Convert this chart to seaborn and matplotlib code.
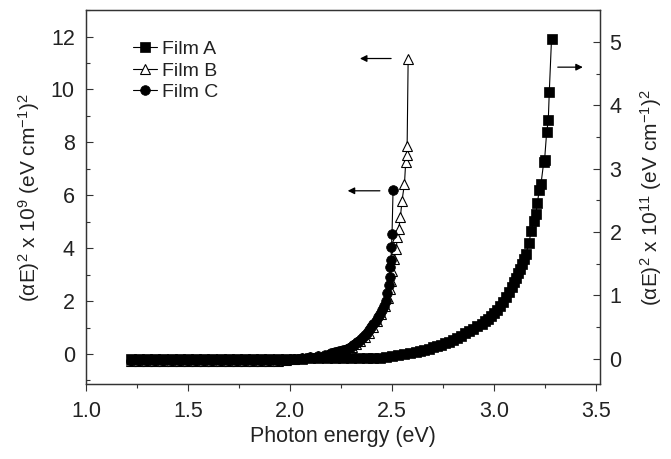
import matplotlib
matplotlib.use("Agg")
import matplotlib.pyplot as plt
import seaborn as sns
from matplotlib.ticker import MultipleLocator, AutoMinorLocator, FormatStrFormatter

# Film A (right axis, x 10^11)
energy_a = [1.22, 1.26, 1.30, 1.34, 1.38, 1.42, 1.46, 1.50, 1.54, 1.58, 1.62, 1.66,
            1.70, 1.74, 1.78, 1.82, 1.86, 1.90, 1.94, 1.98, 2.02, 2.06, 2.10, 2.14,
            2.18, 2.22, 2.26, 2.30, 2.34, 2.38, 2.41, 2.44, 2.47, 2.50, 2.53, 2.56,
            2.59, 2.62, 2.64, 2.66, 2.68, 2.70, 2.72, 2.74, 2.76, 2.78, 2.80, 2.82,
            2.84, 2.86, 2.88, 2.90, 2.92, 2.94, 2.955, 2.97, 2.985, 3.00, 3.015, 3.03,
            3.045, 3.06, 3.075, 3.09, 3.10, 3.11, 3.12, 3.13, 3.14, 3.15, 3.158,
            3.173, 3.182, 3.197, 3.207, 3.213, 3.223, 3.231, 3.245, 3.249, 3.259,
            3.267, 3.272, 3.283]
film_a = [0.0, 0.0, 0.0, 0.0, 0.0, 0.0, 0.0, 0.0, 0.0, 0.0, 0.0, 0.0,
          0.0, 0.0, 0.0, 0.0, 0.0, 0.0, 0.0, 0.0, 0.0, 0.0, 0.01, 0.01,
          0.01, 0.01, 0.01, 0.01, 0.02, 0.02, 0.02, 0.02, 0.03, 0.045, 0.06, 0.07,
          0.09, 0.11, 0.12, 0.14, 0.16, 0.18, 0.20, 0.22, 0.25, 0.27, 0.30, 0.33,
          0.36, 0.40, 0.44, 0.47, 0.51, 0.55, 0.59, 0.63, 0.68, 0.72, 0.77, 0.83,
          0.90, 0.97, 1.05, 1.14, 1.21, 1.28, 1.35, 1.42, 1.50, 1.58, 1.66,
          1.83, 2.01, 2.18, 2.29, 2.45, 2.66, 2.75, 3.11, 3.14, 3.57, 3.76, 4.21, 5.05]

# Film B (left axis, x 10^9)
energy_b = [1.22, 1.26, 1.30, 1.34, 1.38, 1.42, 1.46, 1.50, 1.54, 1.58, 1.62, 1.66,
            1.70, 1.74, 1.78, 1.82, 1.86, 1.90, 1.94, 1.98, 2.02, 2.06, 2.10, 2.14,
            2.18, 2.206, 2.226, 2.246, 2.266, 2.286, 2.306, 2.326, 2.346, 2.366,
            2.386, 2.406, 2.426, 2.446, 2.466, 2.48, 2.49, 2.496, 2.50, 2.509,
            2.522, 2.526, 2.534, 2.542, 2.550, 2.562, 2.568, 2.572, 2.575, 2.58]
film_b = [-0.25, -0.25, -0.25, -0.25, -0.25, -0.25, -0.25, -0.25, -0.25, -0.25, -0.25, -0.25,
          -0.25, -0.25, -0.25, -0.25, -0.25, -0.25, -0.25, -0.22, -0.18, -0.14, -0.1, -0.06,
          -0.02, 0.02, 0.06, 0.10, 0.14, 0.20, 0.28, 0.38, 0.50, 0.64, 0.81,
          1.02, 1.26, 1.53, 1.82, 2.1, 2.45, 2.75, 3.15, 3.6, 3.98, 4.42, 4.74,
          5.18, 5.8, 6.44, 7.26, 7.52, 7.86, 11.15]

# Film C (left axis, x 10^9)
energy_c = [1.22, 1.26, 1.30, 1.34, 1.38, 1.42, 1.46, 1.50, 1.54, 1.58, 1.62, 1.66,
            1.70, 1.74, 1.78, 1.82, 1.86, 1.90, 1.94, 1.98, 2.02, 2.06, 2.10, 2.14,
            2.17, 2.20, 2.21, 2.22, 2.23, 2.24, 2.25, 2.26, 2.27, 2.28, 2.29, 2.30,
            2.31, 2.32, 2.33, 2.34, 2.35, 2.36, 2.37, 2.38, 2.39, 2.40, 2.41, 2.42,
            2.43, 2.44, 2.45, 2.46, 2.47, 2.478, 2.485, 2.489, 2.493, 2.496, 2.498,
            2.501, 2.506]
film_c = [-0.25, -0.25, -0.25, -0.25, -0.25, -0.25, -0.25, -0.25, -0.25, -0.25, -0.25, -0.25,
          -0.25, -0.25, -0.25, -0.25, -0.25, -0.25, -0.25, -0.22, -0.18, -0.14, -0.1, -0.06,
          -0.02, 0.02, 0.04, 0.06, 0.08, 0.10, 0.12, 0.14, 0.17, 0.20, 0.24, 0.28,
          0.33, 0.38, 0.44, 0.50, 0.57, 0.64, 0.72, 0.81, 0.91, 1.02, 1.13, 1.26,
          1.39, 1.53, 1.67, 1.82, 2.02, 2.3, 2.6, 2.9, 3.3, 3.55, 4.03,
          4.54, 6.2]

sns.set_style("ticks")
plt.rcParams["font.family"] = ["Liberation Sans", "DejaVu Sans"]
plt.rcParams["mathtext.default"] = "regular"
txt = "#222222"
edge = "#333333"

fig = plt.figure(figsize=(6.71, 4.59), dpi=100)
ax = fig.add_axes([0.128, 0.163, 0.766, 0.815])
ax2 = ax.twinx()

sns.lineplot(x=energy_b, y=film_b, ax=ax, sort=False, estimator=None, color="k",
             linewidth=0.8, marker="^", markersize=7.5, markerfacecolor="white",
             markeredgecolor="k", markeredgewidth=0.8, label="Film B")
sns.lineplot(x=energy_c, y=film_c, ax=ax, sort=False, estimator=None, color="k",
             linewidth=0.8, marker="o", markersize=7, markerfacecolor="k",
             markeredgecolor="k", markeredgewidth=0.5, label="Film C")
sns.lineplot(x=energy_a, y=film_a, ax=ax2, sort=False, estimator=None, color="k",
             linewidth=0.8, marker="s", markersize=7, markerfacecolor="k",
             markeredgecolor="k", markeredgewidth=0.5, label="Film A")

ax.set_xlim(1.0, 3.52)
ax.set_ylim(-1.14, 13.0)
ax2.set_ylim(-0.40, 5.50)

ax.xaxis.set_major_locator(MultipleLocator(0.5))
ax.xaxis.set_minor_locator(AutoMinorLocator(2))
ax.xaxis.set_major_formatter(FormatStrFormatter("%.1f"))
ax.yaxis.set_major_locator(MultipleLocator(2))
ax.yaxis.set_minor_locator(AutoMinorLocator(2))
ax2.yaxis.set_major_locator(MultipleLocator(1))
ax2.yaxis.set_minor_locator(AutoMinorLocator(2))

ax.tick_params(axis="x", which="major", direction="out", length=5, width=0.8,
               color=edge, labelsize=15.5, labelcolor=txt, pad=7)
ax.tick_params(axis="x", which="minor", direction="out", length=3, width=0.8, color=edge)
ax.tick_params(axis="y", which="major", direction="in", length=5, width=0.8,
               color=edge, labelsize=15.5, labelcolor=txt, pad=8)
ax.tick_params(axis="y", which="minor", direction="in", length=3, width=0.8, color=edge)
ax2.tick_params(axis="y", which="major", direction="in", length=5, width=0.8,
                color=edge, labelsize=15.5, labelcolor=txt, pad=7)
ax2.tick_params(axis="y", which="minor", direction="in", length=3, width=0.8, color=edge)
for a in (ax, ax2):
    for s in a.spines.values():
        s.set_visible(True)
        s.set_color(edge)
        s.set_linewidth(0.9)

ax.set_xlabel("Photon energy (eV)", fontsize=15.5, color=txt, labelpad=3)
ax.set_ylabel("(αE)$^2$ x 10$^9$ (eV cm$^{-1}$)$^2$", fontsize=15, color=txt, labelpad=6)
ax2.set_ylabel("(αE)$^2$ x 10$^{11}$ (eV cm$^{-1}$)$^2$", fontsize=15, color=txt, labelpad=12)

# arrows pointing to the axis each film belongs to
arrow = dict(arrowstyle="-|>", color="k", lw=0.9, mutation_scale=10)
ax.annotate("", xy=(2.33, 11.17), xytext=(2.51, 11.17), arrowprops=arrow)
ax.annotate("", xy=(2.27, 6.17), xytext=(2.455, 6.17), arrowprops=arrow)
ax2.annotate("", xy=(3.45, 4.6), xytext=(3.30, 4.6), arrowprops=arrow)

h1, l1 = ax.get_legend_handles_labels()
h2, l2 = ax2.get_legend_handles_labels()
if ax.get_legend():
    ax.get_legend().remove()
if ax2.get_legend():
    ax2.get_legend().remove()
leg = ax2.legend(h2 + h1, l2 + l1, loc="upper left", bbox_to_anchor=(0.058, 0.965),
                 frameon=False, fontsize=14, handlelength=1.2, handletextpad=0.3,
                 labelspacing=0.2, numpoints=1)
for t in leg.get_texts():
    t.set_color(txt)

fig.savefig("out.png", dpi=100)
